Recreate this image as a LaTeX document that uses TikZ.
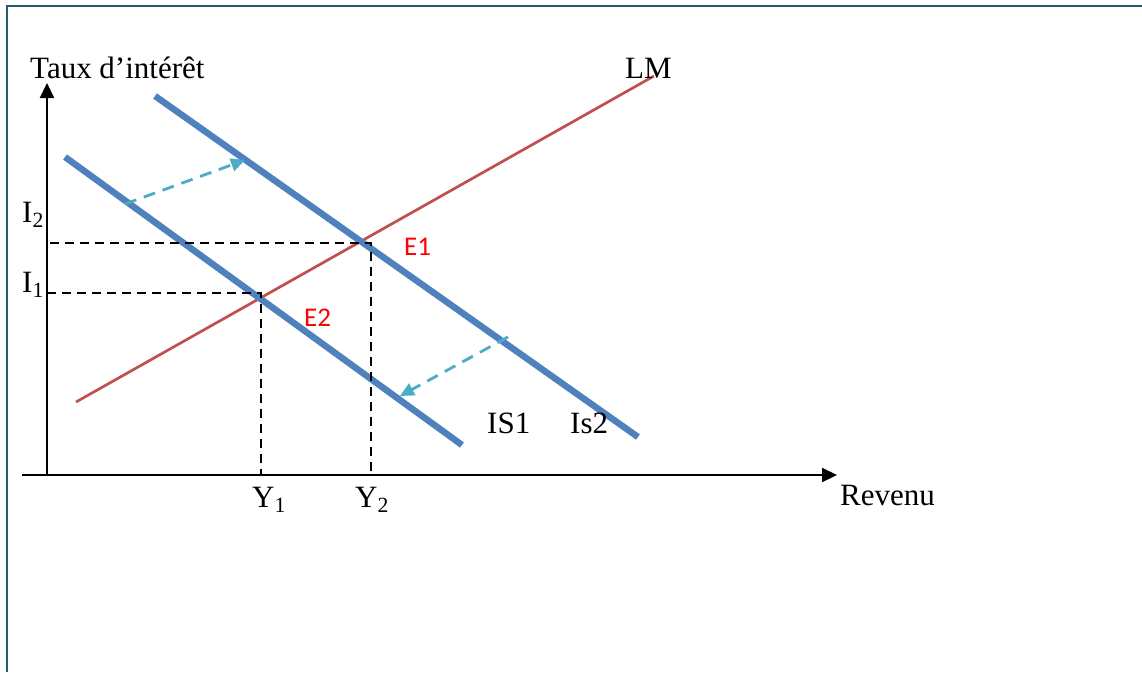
\documentclass[tikz,border=0pt]{standalone}
\usepackage{fontspec}
\setmainfont{Liberation Serif}
\newfontfamily\calib{Carlito}
\usepackage{tikz}
\usetikzlibrary{arrows.meta}
\definecolor{frameblue}{HTML}{215F6E}
\definecolor{isblue}{HTML}{4F81BD}
\definecolor{lmred}{HTML}{C0504D}
\definecolor{shiftcyan}{HTML}{4BACC6}

\begin{document}
\begin{tikzpicture}[x=1pt, y=-1pt,
		lbl/.style={inner sep=0pt, anchor=base west, font=\fontsize{31}{36}\selectfont},
		eq/.style={inner sep=0pt, anchor=base west, text=red, font=\calib\fontsize{27}{32}\selectfont},
		axis/.style={line width=2.2pt, -{Triangle[length=15pt, width=14pt]}},
		isline/.style={isblue, line width=6.5pt},
		guide/.style={line width=2.2pt, dash pattern=on 9pt off 6pt},
		isshift/.style={shiftcyan, line width=2.8pt, dash pattern=on 12pt off 8pt, -{Triangle[length=14pt, width=13pt]}}]
			\useasboundingbox (0,0) rectangle (1142,672);
			% cadre
			\draw[frameblue, line width=2.6pt] (1142,6) -- (7,6) -- (7,672);

			% axes
			\coordinate (O) at (47,475);
			\draw[axis] (22,475) -- (837,475);
			\draw[axis] (O) -- (47,83);
			\node[lbl] (taux) at (30,78) {Taux d’intérêt};
			\node[lbl] (revenu) at (840,505) {Revenu};

			% courbes LM, IS1, IS2
			\draw[lmred, line width=2.7pt] (76,402) -- (654,76);
			\node[lbl] (lm) at (625,78) {LM};
			\draw[isline] (65,157) -- (462,445);
			\draw[isline] (155,96) -- (638,437);
			\node[lbl] (is1) at (487,433) {IS1};
			\node[lbl] (is2) at (570,433) {Is2};

			% equilibres
			\coordinate (E1) at (371,243);
			\coordinate (E2) at (261,293);
			\draw[guide] (50,243) -- (E1) -- (E1 |- O);
			\draw[guide] (47,293) -- (E2) -- (E2 |- O);
			\node[eq] (e1) at (404,255) {E1};
			\node[eq] (e2) at (304,326) {E2};
			\node[lbl] (i2) at (22,222) {I\textsubscript{2}};
			\node[lbl] (i1) at (22,292) {I\textsubscript{1}};
			\node[lbl] (y1) at (252,507) {Y\textsubscript{1}};
			\node[lbl] (y2) at (355,507) {Y\textsubscript{2}};

			% deplacements de IS
			\draw[isshift] (125,204) -- (245,160);
			\draw[isshift] (508,337) -- (400,396);
		\end{tikzpicture}
\end{document}
